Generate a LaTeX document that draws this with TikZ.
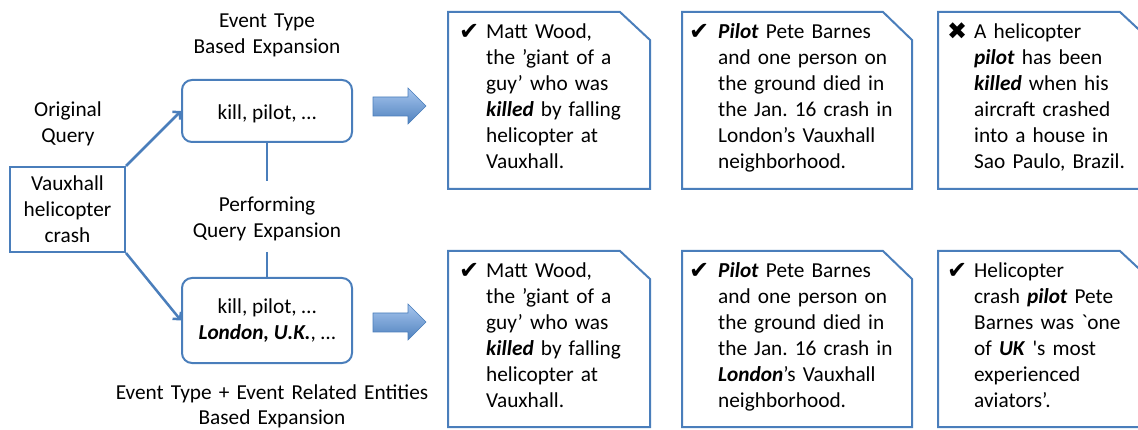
\documentclass[tikz,border=0pt]{standalone}
\usepackage{fontspec}
\setmainfont{Carlito}
\newfontfamily\symfont{DejaVu Sans}
\usetikzlibrary{arrows.meta}
\definecolor{lineblue}{HTML}{4A7EBB}
\definecolor{arrtop}{HTML}{A7C6EF}
\definecolor{arrbot}{HTML}{4F81BD}
\newcommand{\bfit}[1]{\textbf{\textit{#1}}}
\frenchspacing
\begin{document}
\begin{tikzpicture}[x=1pt,y=-1pt,
  font=\fontsize{21.3}{26}\selectfont,
  box/.style={draw=lineblue, line width=2pt, align=center, inner sep=0pt},
  conn/.style={draw=lineblue, line width=2.5pt, -{Straight Barb[length=5pt,width=11pt]}},
  vline/.style={draw=lineblue, line width=2.5pt},
  doc/.style={draw=lineblue, line width=2pt, fill=white},
  blockarrow/.style={draw=lineblue, line width=0.6pt, top color=arrtop, bottom color=arrbot},
  lbl/.style={align=center, text width=340pt, anchor=base, inner sep=0pt},
  doctext/.style={align=left, anchor=base west, inner sep=0pt},
  chk/.style={anchor=base west, inner sep=0pt, font=\fontsize{24}{26}\selectfont\symfont}]
\useasboundingbox (0,0) rectangle (1138,430);
\clip (0,0) rectangle (1138,430);

% left part
\node[box, minimum width=115pt, minimum height=85pt] (q) at (67.5,209.5) {Vauxhall\\helicopter\\crash};
\node[box, rounded corners=10pt, minimum width=170pt, minimum height=62pt, text height=18pt, text depth=0pt] (e1) at (267,111) {kill, pilot, …};
\node[box, rounded corners=10pt, minimum width=170pt, minimum height=85pt] (e2) at (267,320.5) {kill, pilot, …\\\bfit{London, U.K.}, …};

\draw[conn] (q.north east) -- (e1.west);
\draw[conn] (q.south east) -- (e2.west);
\coordinate (v1) at (267,181);
\coordinate (v2) at (267,252);
\draw[vline] (e1.south) -- (v1);
\draw[vline] (v2) -- (e2.north);

\node[lbl] (l1) at (267,28) {Event Type\\Based Expansion};
\node[lbl] (l2) at (68,117) {Original\\Query};
\node[lbl] (l3) at (267,212) {Performing\\Query Expansion};
\node[lbl, font=\fontsize{21.3}{25}\selectfont] (l4) at (272,399) {Event Type + Event Related Entities\\Based Expansion};

% block arrows
\draw[blockarrow] (373,97) -- (408,97) -- (408,88) -- (426,106) -- (408,124) -- (408,116) -- (373,116) -- cycle;
\draw[blockarrow] (373,313) -- (408,313) -- (408,304) -- (426,322) -- (408,340) -- (408,332) -- (373,332) -- cycle;

% documents, top row
\draw[doc] (448,12) -- (620,12) -- (650,40) -- (650,189) -- (448,189) -- cycle;
\draw[doc] (682,12) -- (883,12) -- (912,40) -- (912,189) -- (682,189) -- cycle;
\draw[doc] (938,12) -- (1120,12) -- (1150,40) -- (1150,189) -- (938,189) -- cycle;
% documents, bottom row
\draw[doc] (448,251) -- (620,251) -- (650,279) -- (650,427) -- (448,427) -- cycle;
\draw[doc] (682,251) -- (883,251) -- (912,279) -- (912,427) -- (682,427) -- cycle;
\draw[doc] (938,251) -- (1120,251) -- (1150,279) -- (1150,427) -- (938,427) -- cycle;

% top row texts
\node[chk] (c1) at (459,40) {✔};
\node[doctext, text width=155pt] (t1) at (486,39) {Matt Wood,\\the ’giant of a\\guy’ who was\\\bfit{killed} by falling\\helicopter at\\Vauxhall.};
\node[chk] (c2) at (689,40) {✔};
\node[doctext, text width=185pt] (t2) at (718,39) {\bfit{Pilot} Pete Barnes\\and one person on\\the ground died in\\the Jan. 16 crash in\\London’s Vauxhall\\neighborhood.};
\node[chk] (c3) at (947,40) {✖};
\node[doctext, text width=160pt] (t3) at (974,39) {A helicopter\\\bfit{pilot} has been\\\bfit{killed} when his\\aircraft crashed\\into a house in\\Sao Paulo, Brazil.};

% bottom row texts
\node[chk] (c4) at (459,279) {✔};
\node[doctext, text width=155pt] (t4) at (486,278) {Matt Wood,\\the ’giant of a\\guy’ who was\\\bfit{killed} by falling\\helicopter at\\Vauxhall.};
\node[chk] (c5) at (689,279) {✔};
\node[doctext, text width=185pt] (t5) at (718,278) {\bfit{Pilot} Pete Barnes\\and one person on\\the ground died in\\the Jan. 16 crash in\\\bfit{London}’s Vauxhall\\neighborhood.};
\node[chk] (c6) at (947,279) {✔};
\node[doctext, text width=160pt] (t6) at (974,278) {Helicopter\\crash \bfit{pilot} Pete\\Barnes was \textasciigrave one\\of \bfit{UK} \textquotesingle s most\\experienced\\aviators’.};
\end{tikzpicture}
\end{document}
